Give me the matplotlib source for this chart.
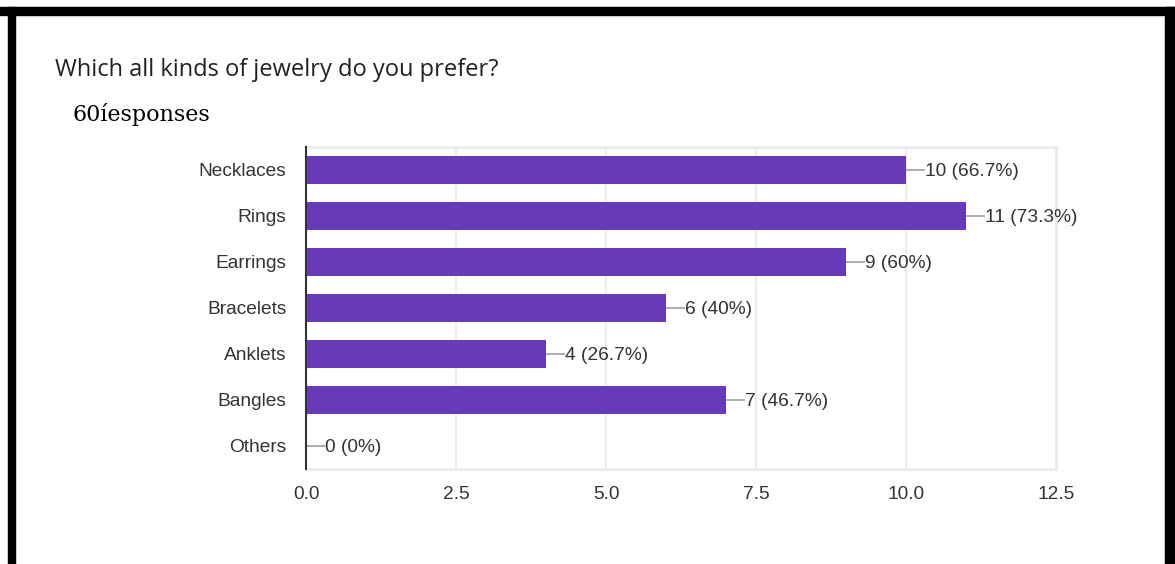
import matplotlib.pyplot as plt
from matplotlib.patches import Rectangle

categories = ["Necklaces", "Rings", "Earrings", "Bracelets", "Anklets", "Bangles", "Others"]
counts = [10, 11, 9, 6, 4, 7, 0]
percents = ["66.7%", "73.3%", "60%", "40%", "26.7%", "46.7%", "0%"]
xticks = [0.0, 2.5, 5.0, 7.5, 10.0, 12.5]

purple = "#673ab7"
text_col = "#333333"
grid_col = "#ebebeb"

fig = plt.figure(figsize=(11.75, 5.64), dpi=100)
ax = fig.add_axes([306 / 1175, 1 - 469 / 564, 750 / 1175, 322 / 564])

pos = list(range(len(categories)))
ax.barh(pos, counts, height=0.62, color=purple, zorder=3)

# leader line + value label at the end of each bar
for y, c, p in zip(pos, counts, percents):
    ax.plot([c, c + 0.32], [y, y], color="#9e9e9e", lw=1.2, zorder=3,
            solid_capstyle="butt")
    ax.text(c + 0.32, y, f"{c} ({p})", va="center_baseline", ha="left",
            fontsize=13.8, color=text_col, family="Liberation Sans")

ax.set_xlim(0, 12.5)
ax.set_ylim(6.5, -0.5)
ax.set_yticks(pos)
ax.set_yticklabels(categories, va="center_baseline")
ax.set_xticks(xticks)
ax.set_xticklabels([f"{t:.1f}" for t in xticks])
ax.tick_params(axis="both", length=0, labelsize=13.8, labelcolor=text_col)
ax.tick_params(axis="y", pad=14)
ax.tick_params(axis="x", pad=12)
for lab in ax.get_xticklabels() + ax.get_yticklabels():
    lab.set_family("Liberation Sans")

ax.grid(axis="x", color=grid_col, lw=1.3, zorder=0)
for side in ["top", "right", "bottom"]:
    ax.spines[side].set_color(grid_col)
    ax.spines[side].set_linewidth(2)
ax.spines["left"].set_color("#333333")
ax.spines["left"].set_linewidth(1.5)
ax.spines["left"].set_zorder(4)

fig.text(55 / 1175, 1 - 70 / 564, "Which all kinds of jewelry do you prefer?",
         fontsize=17, color="#202124", va="center", family="Open Sans")
fig.text(72 / 1175, 1 - 115 / 564, "60íesponses",
         fontsize=16, color="#000000", va="center", family="DejaVu Serif")

# black frame around the card
frame = dict(transform=fig.transFigure, color="black", zorder=10)
fig.patches.append(Rectangle((0, 1 - 15 / 564), 1, 8 / 564, **frame))
fig.patches.append(Rectangle((8 / 1175, 0), 7 / 1175, 1 - 7 / 564, **frame))
fig.patches.append(Rectangle((1165 / 1175, 0), 10 / 1175, 1 - 7 / 564, **frame))

fig.savefig("out.png", dpi=100)
